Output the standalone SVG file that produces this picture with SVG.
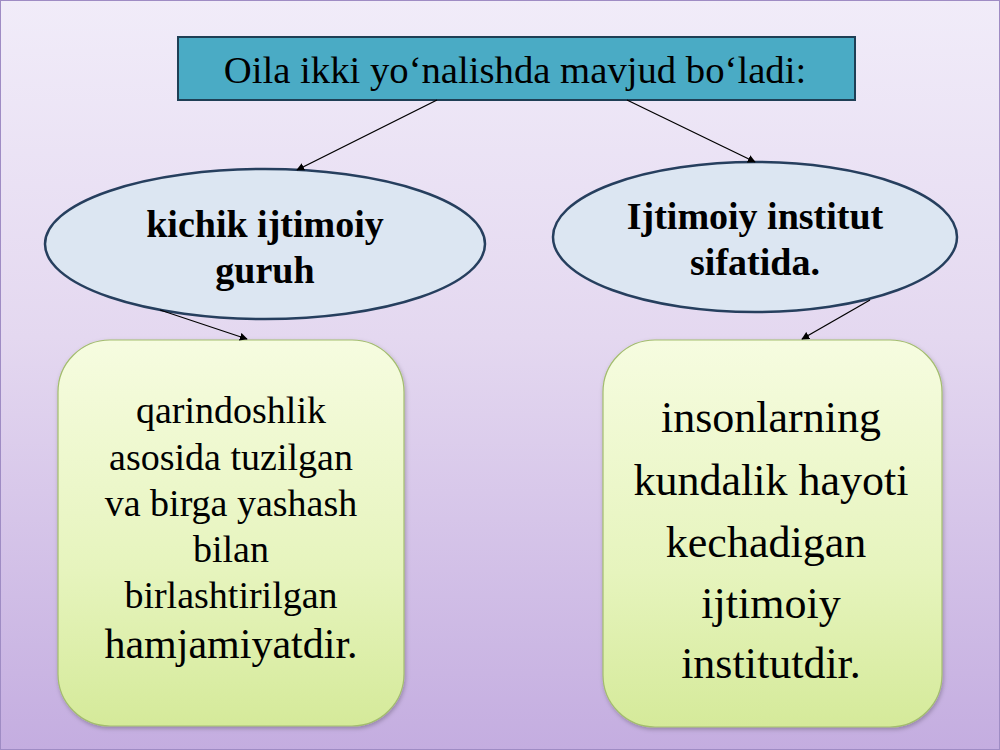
<svg xmlns="http://www.w3.org/2000/svg" width="1000" height="750" viewBox="0 0 1000 750">
  <defs>
    <linearGradient id="bg" x1="0" y1="0" x2="0" y2="1">
      <stop offset="0" stop-color="#f1ecf9"/>
      <stop offset="0.45" stop-color="#e4d8f0"/>
      <stop offset="1" stop-color="#c4ade0"/>
    </linearGradient>
    <linearGradient id="green" x1="0" y1="0" x2="0" y2="1">
      <stop offset="0" stop-color="#f6fce0"/>
      <stop offset="0.6" stop-color="#e6f4bd"/>
      <stop offset="1" stop-color="#d5ea9a"/>
    </linearGradient>
    <marker id="arrow" viewBox="0 0 10 10" refX="9" refY="5" markerWidth="8" markerHeight="8" markerUnits="userSpaceOnUse" orient="auto">
      <path d="M0,0 L10,5 L0,10 z" fill="#000"/>
    </marker>
    <filter id="shadow" x="-10%" y="-10%" width="120%" height="120%">
      <feDropShadow dx="1" dy="2" stdDeviation="2" flood-color="#000" flood-opacity="0.25"/>
    </filter>
  </defs>
  <style>
    .title { font-family: "Liberation Serif", "Times New Roman", serif; font-size: 38.7px; fill: #000; }
    .ell { fill: #dce6f2; stroke: #263f5e; stroke-width: 2.5; }
    .bold { font-family: "Liberation Serif", "Times New Roman", serif; font-size: 38px; font-weight: bold; fill: #000; }
    .box { fill: url(#green); stroke: #a3bd6e; stroke-width: 1.2; }
    .txt { font-family: "Liberation Serif", "Times New Roman", serif; fill: #000; }
    .conn { stroke: #000; stroke-width: 1.3; fill: none; marker-end: url(#arrow); }
  </style>

  <rect x="0" y="0" width="1000" height="750" fill="url(#bg)"/>
  <rect x="0.5" y="0.5" width="999" height="749" fill="none" stroke="#9f8cc4" stroke-width="1"/>

  <g id="top">
    <rect x="178" y="37" width="677" height="63" fill="#4aabc5" stroke="#1f3f55" stroke-width="2"/>
    <text class="title" x="515" y="83" text-anchor="middle">Oila ikki yo‘nalishda mavjud bo‘ladi:</text>
  </g>

  <g id="left-ellipse">
    <ellipse class="ell" cx="265" cy="244" rx="220" ry="75"/>
    <text class="bold" x="265" y="237" text-anchor="middle">kichik ijtimoiy</text>
    <text class="bold" x="265" y="283" text-anchor="middle">guruh</text>
  </g>

  <g id="right-ellipse">
    <ellipse class="ell" cx="755" cy="237" rx="202" ry="75"/>
    <text class="bold" x="755" y="229" text-anchor="middle">Ijtimoiy institut</text>
    <text class="bold" x="755" y="275" text-anchor="middle">sifatida.</text>
  </g>

  <g id="left-box">
    <rect class="box" x="58" y="340" width="346" height="386" rx="52" ry="52" filter="url(#shadow)"/>
    <g class="txt" text-anchor="middle" font-size="38">
      <text x="231" y="423">qarindoshlik</text>
      <text x="231" y="470">asosida tuzilgan</text>
      <text x="231" y="516">va birga yashash</text>
      <text x="231" y="562">bilan</text>
      <text x="231" y="608">birlashtirilgan</text>
      <text x="231" y="658" font-size="42">hamjamiyatdir.</text>
    </g>
  </g>

  <g id="right-box">
    <rect class="box" x="603" y="340" width="339" height="387" rx="52" ry="52" filter="url(#shadow)"/>
    <g class="txt" text-anchor="middle" font-size="44">
      <text x="771" y="432">insonlarning</text>
      <text x="771" y="495">kundalik hayoti</text>
      <text x="766" y="557">kechadigan</text>
      <text x="771" y="618">ijtimoiy</text>
      <text x="771" y="678">institutdir.</text>
    </g>
  </g>

  <g id="connectors">
    <line class="conn" x1="437" y1="100" x2="297" y2="170"/>
    <line class="conn" x1="627" y1="100" x2="755" y2="162"/>
    <line class="conn" x1="160" y1="310" x2="247" y2="339"/>
    <line class="conn" x1="870" y1="300" x2="802" y2="339"/>
  </g>
</svg>
